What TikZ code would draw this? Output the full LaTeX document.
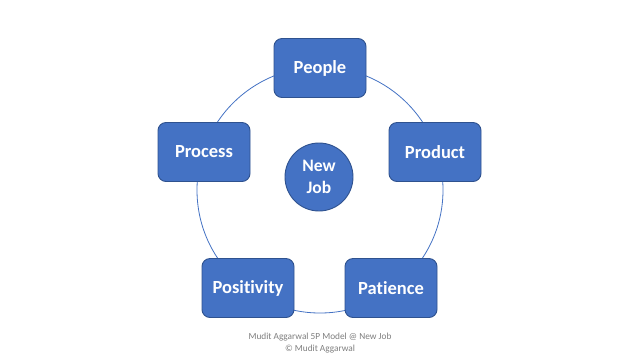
\documentclass[tikz,border=0pt]{standalone}
\usepackage{fontspec}
\setmainfont{Carlito}[Ligatures=NoCommon]
\definecolor{boxfill}{HTML}{4472C4}
\definecolor{boxline}{HTML}{2F528F}
\definecolor{foot}{HTML}{7F7F7F}
\begin{document}
\begin{tikzpicture}[x=1pt,y=-1pt,
  pbox/.style={draw=boxline,line width=0.9pt,fill=boxfill,rounded corners=8pt,
    minimum width=92pt,minimum height=59pt,inner sep=0pt,text=white,
    font=\fontsize{18.5}{22}\selectfont\bfseries},
  hub/.style={circle,draw=boxline,line width=0.9pt,fill=boxfill,minimum size=68pt,
    inner sep=0pt,text=white,align=center,font=\fontsize{17.5}{22}\selectfont\bfseries}]
\useasboundingbox[fill=white] (0,0) rectangle (640,360);
\coordinate (c) at (320,190);
\draw[boxfill,line width=0.8pt] (c) circle[radius=123pt];
\node[pbox] (people) at (320,68) {People};
\node[pbox] (process) at (204,152) {Process};
\node[pbox] (product) at (435,152) {Product};
\node[pbox] (positivity) at (248,288) {Positivity};
\node[pbox] (patience) at (391,288) {Patience};
\node[hub] (job) at (319,177) {New\\Job};
\node[text=foot,align=center,font=\fontsize{9.3}{11.5}\selectfont] (footer) at (320,343)
  {Mudit Aggarwal 5P Model @ New Job\\© Mudit Aggarwal};
\end{tikzpicture}
\end{document}
